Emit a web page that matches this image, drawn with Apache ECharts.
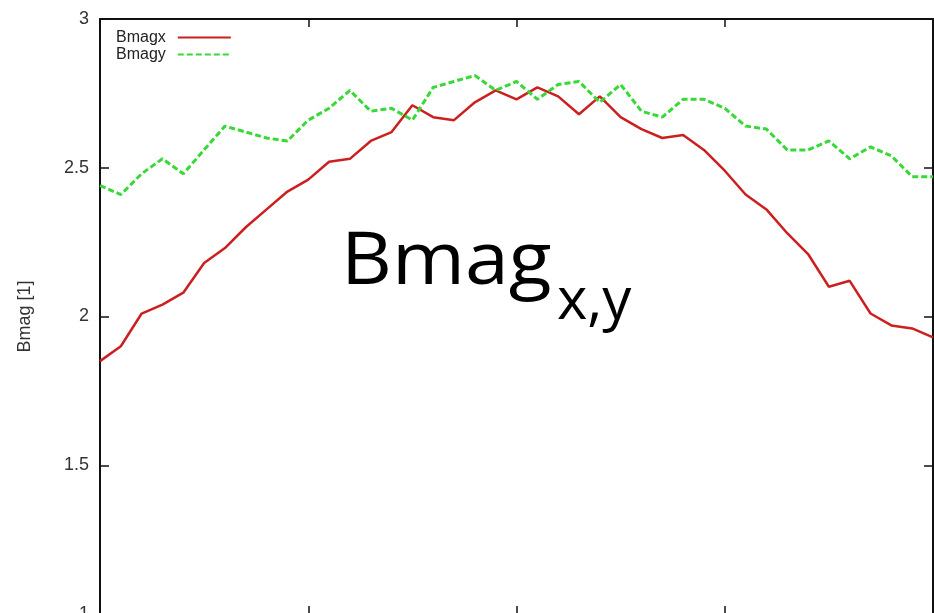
<!DOCTYPE html>
<html>
<head>
<meta charset="utf-8">
<title>Bmag</title>
<script src="https://cdn.jsdelivr.net/npm/echarts@6/dist/echarts.min.js"></script>
<style>
  html, body { margin: 0; padding: 0; background: #ffffff; }
  #chart { width: 934px; height: 613px; }
</style>
</head>
<body>
<div id="chart"></div>
<script>
// Sample positions along the profile
const xValues = [0, 1, 2, 3, 4, 5, 6, 7, 8, 9, 10, 11, 12, 13, 14, 15, 16, 17, 18, 19, 20,
                 21, 22, 23, 24, 25, 26, 27, 28, 29, 30, 31, 32, 33, 34, 35, 36, 37, 38, 39, 40];

// Magnetic field magnitude, x component
const bmagx = [1.85, 1.90, 2.01, 2.04, 2.08, 2.18, 2.23, 2.30, 2.36, 2.42, 2.46,
               2.52, 2.53, 2.59, 2.62, 2.71, 2.67, 2.66, 2.72, 2.76, 2.73,
               2.77, 2.74, 2.68, 2.74, 2.67, 2.63, 2.60, 2.61, 2.56, 2.49,
               2.41, 2.36, 2.28, 2.21, 2.10, 2.12, 2.01, 1.97, 1.96, 1.93];

// Magnetic field magnitude, y component
const bmagy = [2.44, 2.41, 2.48, 2.53, 2.48, 2.56, 2.64, 2.62, 2.60, 2.59, 2.66,
               2.70, 2.76, 2.69, 2.70, 2.66, 2.77, 2.79, 2.81, 2.76, 2.79,
               2.73, 2.78, 2.79, 2.72, 2.78, 2.69, 2.67, 2.73, 2.73, 2.70,
               2.64, 2.63, 2.56, 2.56, 2.59, 2.53, 2.57, 2.54, 2.47, 2.47];

const yTicks = [1, 1.5, 2, 2.5, 3];

const pairs = (vals) => vals.map((v, i) => [xValues[i], v]);

const chart = echarts.init(document.getElementById('chart'), null, { renderer: 'canvas' });

const sansFont = 'Liberation Sans, Arial, sans-serif';
const frameLine = { show: true, onZero: false, lineStyle: { color: '#111', width: 2 } };
const tickIn = (len) => ({ show: true, inside: true, length: len, lineStyle: { color: '#111', width: 1.5 } });

chart.setOption({
  backgroundColor: '#ffffff',
  animation: false,
  grid: { left: 100, top: 19, width: 833, height: 595, outerBoundsMode: 'none', containLabel: false },
  legend: {
    orient: 'vertical',
    left: 111,
    top: 24,
    align: 'right',
    itemWidth: 53,
    itemHeight: 10,
    itemGap: 0,
    itemStyle: { opacity: 0 },
    textStyle: { fontFamily: sansFont, fontSize: 16, lineHeight: 17, color: '#222', padding: [0, 7, 0, 0] },
    data: ['Bmagx', 'Bmagy']
  },
  xAxis: [
    {
      type: 'value', min: 0, max: 40, interval: 10, position: 'bottom',
      axisLine: frameLine, axisTick: tickIn(8), axisLabel: { show: false }, splitLine: { show: false }
    },
    {
      type: 'value', min: 0, max: 40, interval: 10, position: 'top',
      axisLine: frameLine, axisTick: tickIn(8), axisLabel: { show: false }, splitLine: { show: false }
    }
  ],
  yAxis: [
    {
      type: 'value', min: yTicks[0], max: yTicks[yTicks.length - 1], interval: 0.5, position: 'left',
      name: 'Bmag [1]', nameLocation: 'middle', nameGap: 66, nameRotate: 90,
      nameTextStyle: { fontFamily: sansFont, fontSize: 18, color: '#333' },
      axisLine: frameLine, axisTick: tickIn(9),
      axisLabel: { margin: 11, showMinLabel: true, showMaxLabel: true, fontFamily: sansFont, fontSize: 18, color: '#333' },
      splitLine: { show: false }
    },
    {
      type: 'value', min: yTicks[0], max: yTicks[yTicks.length - 1], interval: 0.5, position: 'right',
      axisLine: frameLine, axisTick: tickIn(9), axisLabel: { show: false }, splitLine: { show: false }
    }
  ],
  series: [
    {
      name: 'Bmagx', type: 'line', xAxisIndex: 0, yAxisIndex: 0,
      data: pairs(bmagx), symbol: 'none', showSymbol: false,
      lineStyle: { color: '#cc1f1f', width: 2.5 }, itemStyle: { color: '#cc1f1f' }
    },
    {
      name: 'Bmagy', type: 'line', xAxisIndex: 0, yAxisIndex: 0,
      data: pairs(bmagy), symbol: 'none', showSymbol: false,
      lineStyle: { color: '#38d838', width: 3, type: [6, 3] }, itemStyle: { color: '#38d838' }
    }
  ],
  graphic: [
    {
      type: 'text', x: 341, y: 263, scaleX: 1.08, silent: true, z: 100,
      style: { text: 'Bmag', fill: '#000', font: '73px "Open Sans", sans-serif', verticalAlign: 'middle', align: 'left' }
    },
    {
      type: 'text', x: 557, y: 302, silent: true, z: 100,
      style: { text: 'x,y', fill: '#000', font: '58px "Open Sans", sans-serif', verticalAlign: 'middle', align: 'left' }
    }
  ]
});
</script>
</body>
</html>
